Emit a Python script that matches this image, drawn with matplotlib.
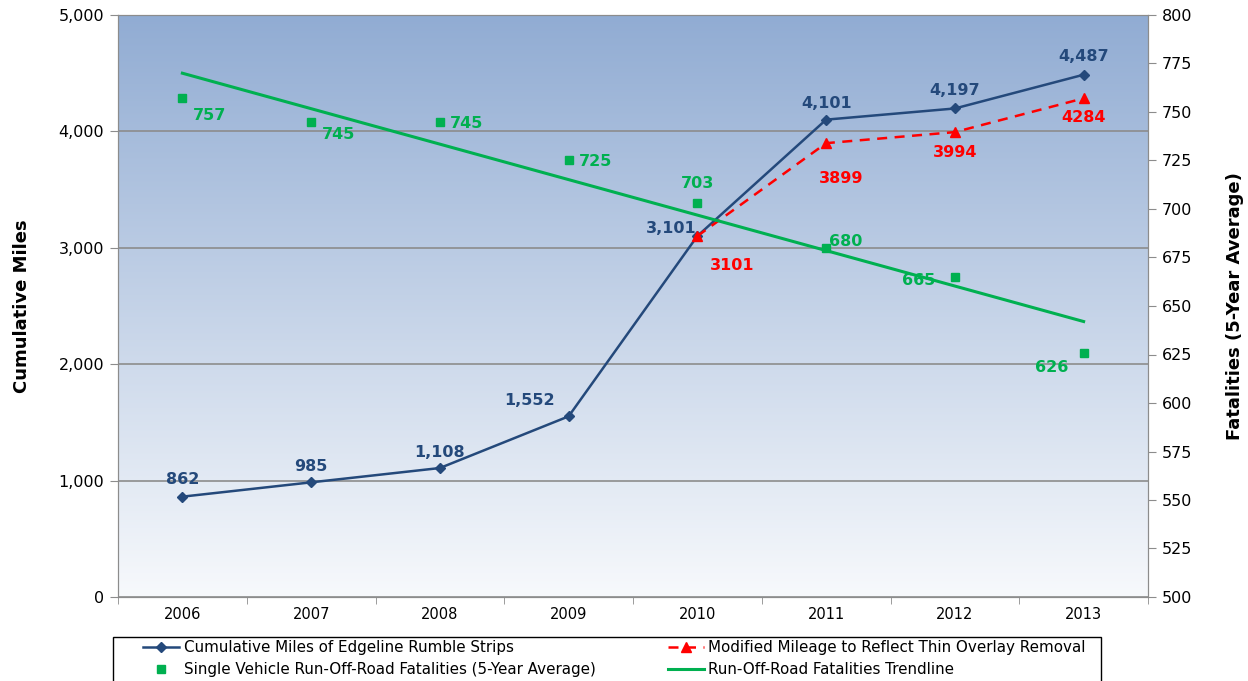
import matplotlib.pyplot as plt
import numpy as np
from matplotlib.patches import Rectangle

years = ["2006", "2007", "2008", "2009", "2010", "2011", "2012", "2013"]
cumulative_miles = [862, 985, 1108, 1552, 3101, 4101, 4197, 4487]
modified_years = ["2010", "2011", "2012", "2013"]
modified_miles = [3101, 3899, 3994, 4284]
fatalities = [757, 745, 745, 725, 703, 680, 665, 626]
trend_ends = [770, 642]  # trendline value at 2006 and at 2013

BLUE = "#24497b"
RED = "#ff0000"
GREEN = "#00b050"

plt.rcParams["font.family"] = ["DejaVu Sans"]

W, H = 1248, 681
fig = plt.figure(figsize=(W / 100, H / 100), dpi=100)
ax = fig.add_axes([118 / W, 84 / H, 1030 / W, 582 / H])
ax2 = ax.twinx()

x = np.arange(len(years))
xm = np.array([years.index(y) for y in modified_years])

# gradient background
grad = np.linspace(0, 1, 256).reshape(-1, 1)
top = np.array([145, 172, 211]) / 255
bot = np.array([247, 249, 252]) / 255
img = top * (1 - grad[:, :, None]) + bot * grad[:, :, None]
img = np.repeat(img, 2, axis=1)
ax.imshow(img, extent=[0, 1, 0, 1], transform=ax.transAxes, aspect="auto", zorder=0)

ax.set_xlim(-0.5, 7.5)
ax.set_ylim(0, 5000)
ax2.set_ylim(500, 800)
ax.set_yticks(range(0, 5001, 1000))
ax.set_yticklabels([f"{v:,}" for v in range(0, 5001, 1000)])
ax2.set_yticks(range(500, 801, 25))
ax.yaxis.grid(True, color="#8c8c8c", linewidth=1.2, zorder=1)

ax.set_xticks(x)
ax.set_xticklabels(years)
ax.set_xticks(np.arange(-0.5, 7.6, 1), minor=True)
ax.tick_params(axis="x", which="major", length=0, pad=7, labelsize=10.5)
ax.tick_params(axis="x", which="minor", length=5, color="#8c8c8c", direction="out")
ax.tick_params(axis="y", length=6, color="#8c8c8c", labelsize=11.5, pad=4)
ax2.tick_params(axis="y", length=6, color="#8c8c8c", labelsize=11.5, pad=4)
for a in (ax, ax2):
    for s in a.spines.values():
        s.set_color("#8c8c8c")

ax.set_ylabel("Cumulative Miles", fontsize=13, fontweight="bold", labelpad=20)
ax2.set_ylabel("Fatalities (5-Year Average)", fontsize=13, fontweight="bold", labelpad=24)

l1, = ax.plot(x, cumulative_miles, color=BLUE, marker="D", markersize=5, linewidth=1.8,
              label="Cumulative Miles of Edgeline Rumble Strips", zorder=4)
l2, = ax.plot(xm, modified_miles, color=RED, marker="^", markersize=7, linewidth=1.8,
              linestyle=(0, (4, 3)), label="Modified Mileage to Reflect Thin Overlay Removal", zorder=5)
l3, = ax2.plot(x, fatalities, linestyle="none", marker="s", markersize=6, color=GREEN,
               label="Single Vehicle Run-Off-Road Fatalities (5-Year Average)", zorder=4)
l4, = ax2.plot([x[0], x[-1]], trend_ends, color=GREEN, linewidth=2.2,
               label="Run-Off-Road Fatalities Trendline", zorder=3)

lab = dict(fontsize=11.5, fontweight="bold")
# label offsets in pixels
blue_off = [(0, 17), (0, 16), (0, 16), (-39, 16), (-26, 8), (0, 16), (0, 18), (0, 18)]
for xi, v, (dx, dy) in zip(x, cumulative_miles, blue_off):
    ax.annotate(f"{v:,}", (xi, v), xytext=(dx, dy), textcoords="offset pixels",
                ha="center", va="center", color=BLUE, **lab)
red_off = [(35, -29), (15, -35), (0, -20), (0, -19)]
for xi, v, (dx, dy) in zip(xm, modified_miles, red_off):
    ax.annotate(f"{v}", (xi, v), xytext=(dx, dy), textcoords="offset pixels",
                ha="center", va="center", color=RED, **lab)
green_off = [(27, -17), (27, -13), (27, -2), (27, -1), (0, 20), (20, 6), (-36, -4), (-32, -15)]
for xi, v, (dx, dy) in zip(x, fatalities, green_off):
    ax2.annotate(f"{v}", (xi, v), xytext=(dx, dy), textcoords="offset pixels",
                 ha="center", va="center", color=GREEN, **lab)

leg = fig.legend(handles=[l1, l3, l2, l4], ncol=2, loc="upper left",
                 bbox_to_anchor=(143 / W, 41 / H, 943 / W, 0.0), mode="expand",
                 fontsize=10.9, frameon=False, handlelength=2.4, handletextpad=0.3,
                 borderpad=0, labelspacing=0.45, borderaxespad=0)
fig.patches.append(Rectangle((113 / W, -0.05), 988 / W, 0.05 + 44 / H, transform=fig.transFigure,
                             fill=False, edgecolor="black", linewidth=1.0))

fig.savefig("out.png", dpi=100)
